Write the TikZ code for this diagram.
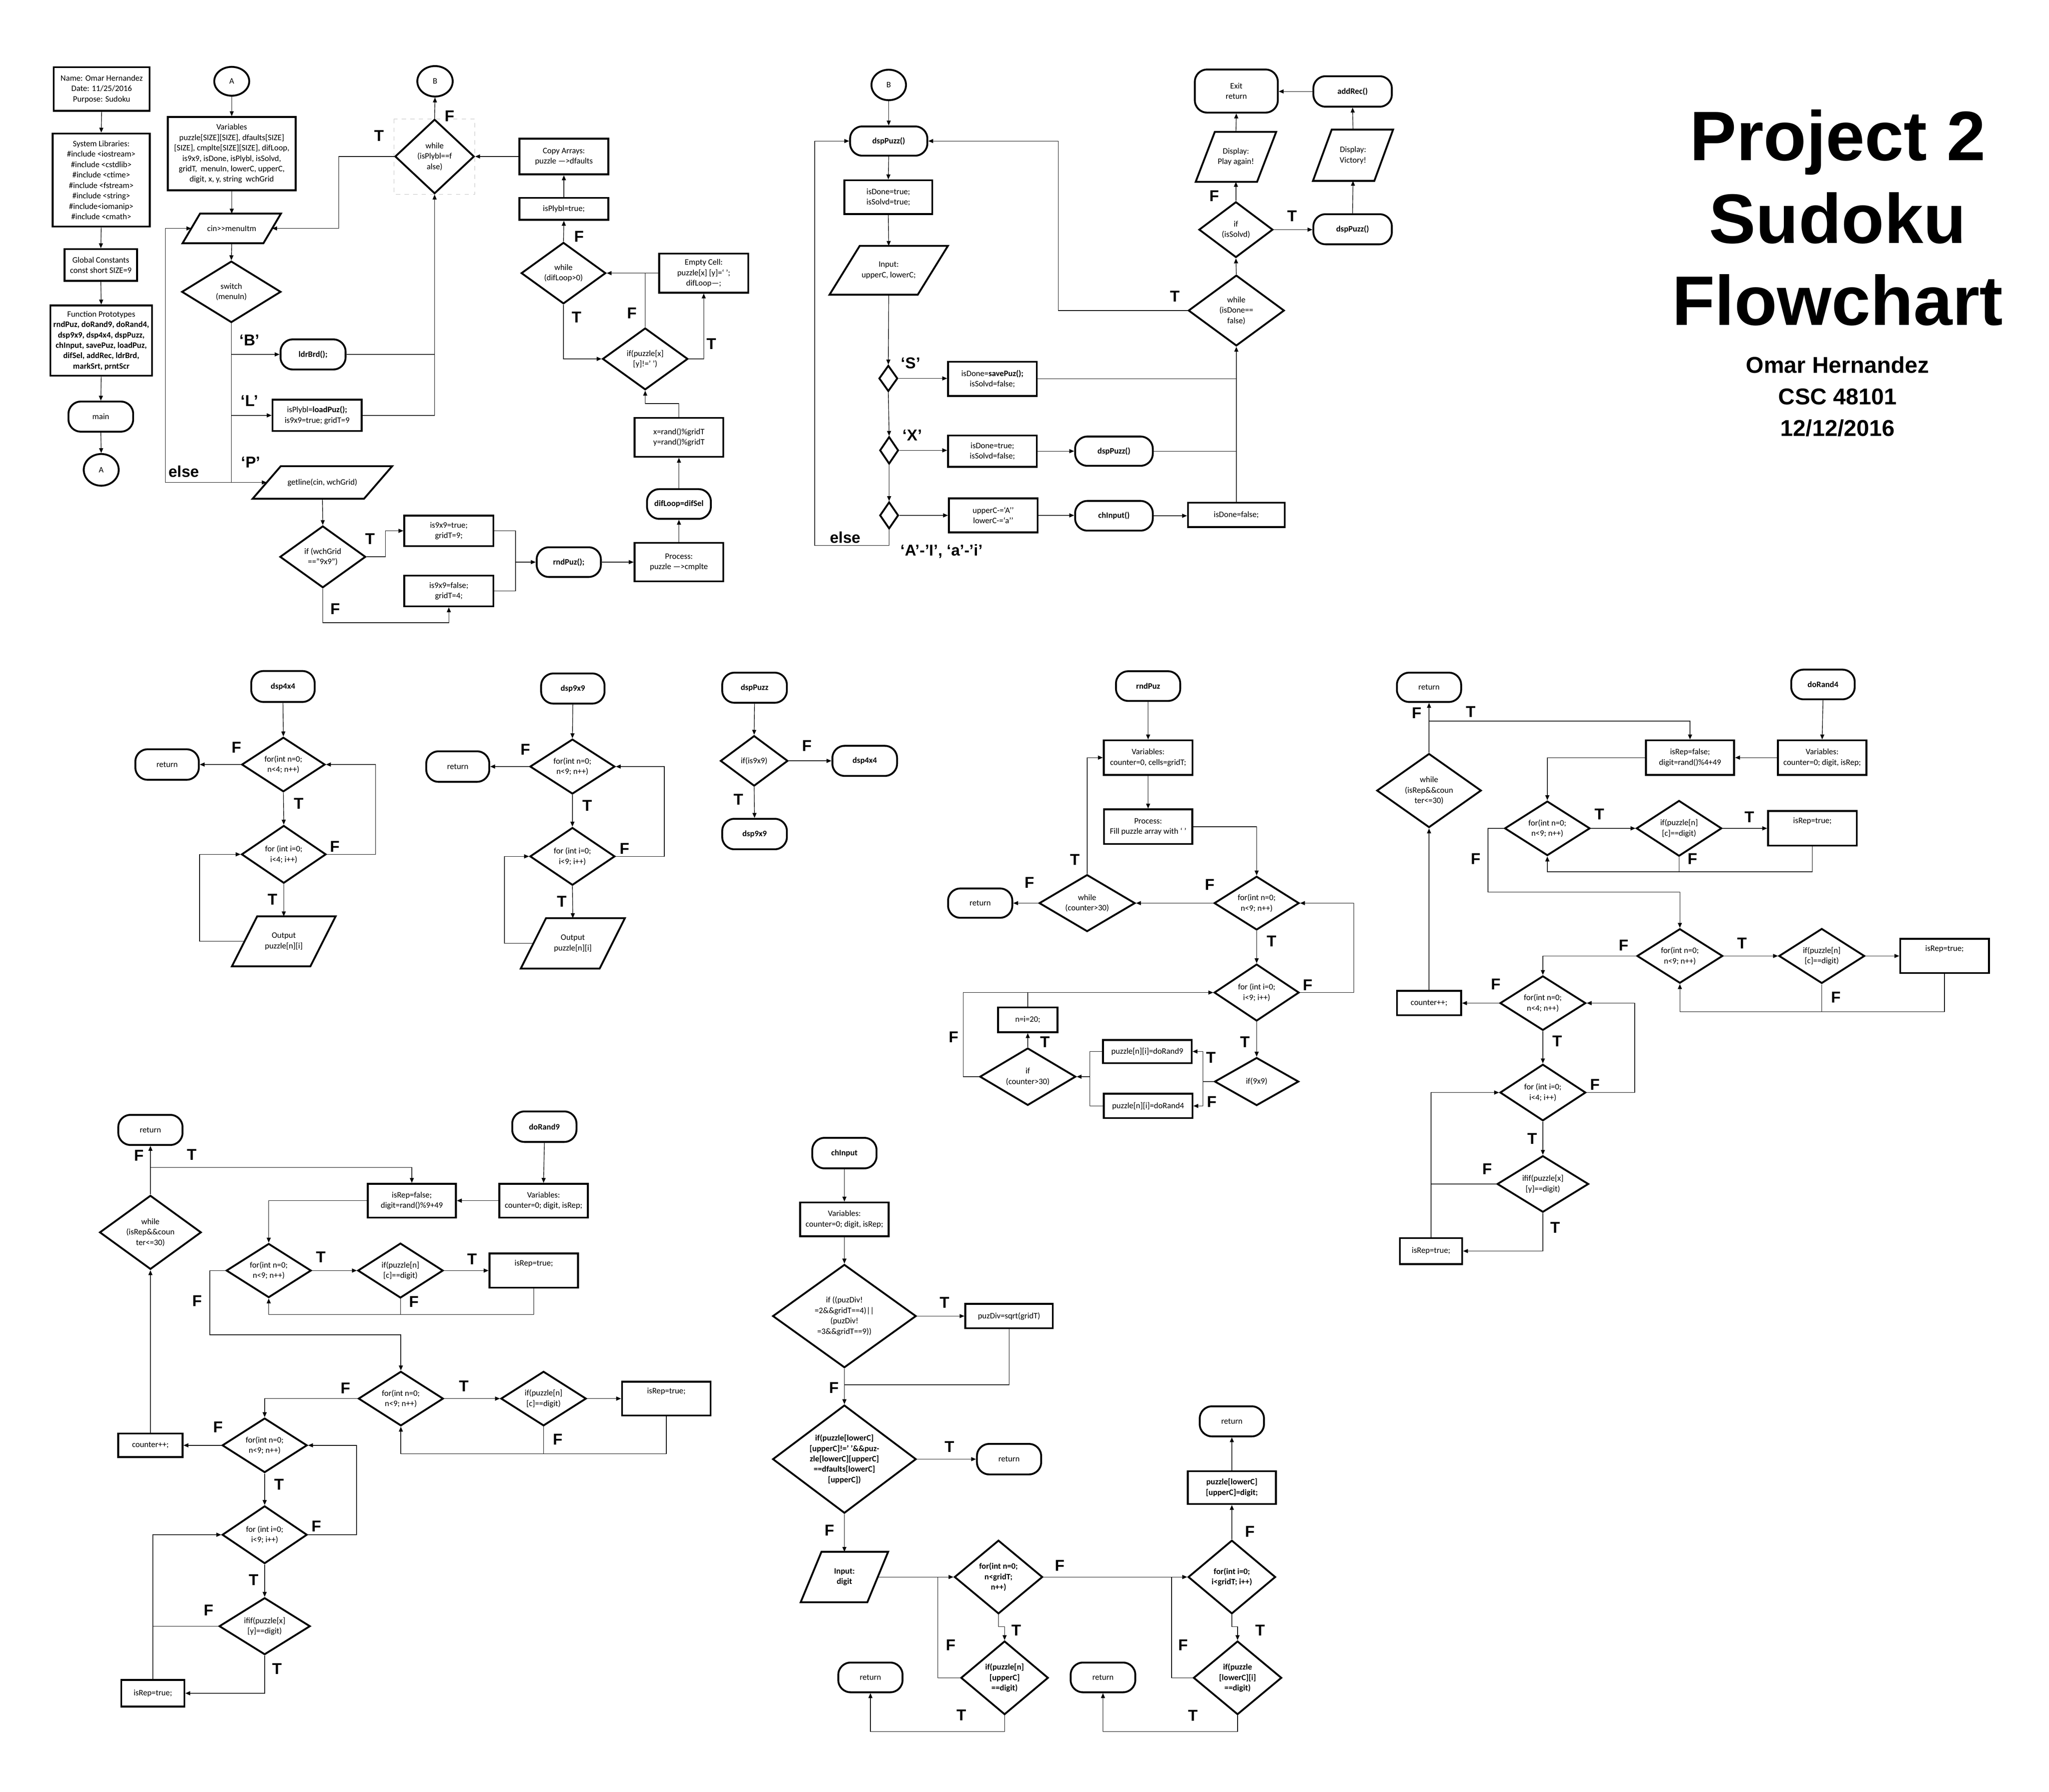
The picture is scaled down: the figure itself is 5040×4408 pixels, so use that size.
\documentclass[tikz,border=0pt]{standalone}
\usepackage{fontspec}
\setmainfont{Carlito}
\newfontfamily\labfont{Liberation Sans}
\usetikzlibrary{shapes.geometric,arrows.meta}

\tikzset{
 base/.style={inner sep=0pt, align=center, font=\fontsize{5.8}{7.3}\selectfont},
 bold/.style={font=\fontsize{5.8}{7.3}\selectfont\bfseries},
 box/.style={base, draw, line width=1.3pt, rectangle},
 term/.style={base, draw, line width=1.3pt, rounded corners=0.3cm},
 dia/.style={base, draw, line width=1.3pt, diamond},
 conn/.style={base, draw, line width=1.3pt, ellipse},
 txt/.style={base, outer sep=0pt},
 sz/.code 2 args={\pgfmathsetlengthmacro\szW{#1*0.01cm}\pgfmathsetlengthmacro\szH{#2*0.01cm}%
   \edef\szNext{\noexpand\pgfkeysalso{minimum width=\szW,minimum height=\szH}}\szNext},
 arr/.style={line width=0.4pt, -{Triangle[length=0.12cm,width=0.1cm]}},
 ln/.style={line width=0.4pt},
 lab/.style={inner sep=0pt, font=\labfont\bfseries\fontsize{11}{13}\selectfont},
 outl/.style={line width=1.3pt, line join=miter},
}

\newcommand{\Dia}[7][]{%
 \node[dia,sz={#5}{#6}] (#2) at (#3,#4) {};%
 \node[txt,#1] (#2-t) at (#2.center) {#7};}

\newcommand{\Para}[8][]{%
 \pgfmathsetmacro\myPW{(#5-#7)*0.01}%
 \pgfmathsetmacro\myPH{#6*0.01}%
 \pgfmathsetmacro\myPS{#7*0.005}%
 \node[txt,#1,minimum width=\myPW cm,minimum height=\myPH cm] (#2) at (#3,#4) {#8};%
 \draw[outl] ([xshift=-\myPS cm]#2.south west) -- ([xshift=\myPS cm]#2.north west) -- ([xshift=\myPS cm]#2.north east) -- ([xshift=-\myPS cm]#2.south east) -- cycle;}

\newcounter{labc}
\newcommand{\Lab}[3]{\stepcounter{labc}\node[lab] (lab\arabic{labc}) at (#1,#2) {#3};}
\newcommand{\RTrue}{\raisebox{0.12cm}[0pt][0pt]{isRep=true;}}

\begin{document}
\begin{tikzpicture}[x=0.01cm,y=-0.01cm]
\fill[white] (0,0) rectangle (5040,4408);
\useasboundingbox (0,0) rectangle (5040,4408);

% ================= MAIN =================
\node[box,sz={236}{107}] (n1) at (250,219) {Name: Omar Hernandez\\Date: 11/25/2016\\Purpose: Sudoku};
\node[box,sz={239}{229}] (n2) at (249,443) {System Libraries:\\\#include <iostream>\\\#include <cstdlib>\\\#include <ctime>\\\#include <fstream>\\\#include <string>\\\#include<iomanip>\\\#include <cmath>};
\node[box,sz={178}{78}] (n3) at (248,652) {Global Constants\\const short SIZE=9};
\node[box,sz={250}{173}] (n4) at (249,838) {Function Prototypes\\\textbf{rndPuz, doRand9, doRand4,}\\\textbf{dsp9x9, dsp4x4, dspPuzz,}\\\textbf{chInput, savePuz, loadPuz,}\\\textbf{difSel, addRec, ldrBrd,}\\\textbf{markSrt, prntScr}};
\node[term,sz={159}{74}] (n5) at (248,1025) {main};
\node[conn,sz={86}{78}] (n6) at (249,1156) {A};
\draw[arr] (n1.south) -- (n2.north);
\draw[arr] (n2.south) -- (n3.north);
\draw[arr] (n3.south) -- (n4.north);
\draw[arr] (n4.south) -- (n5.north);
\draw[arr] (n5.south) -- (n6.north);

\node[conn,sz={86}{71}] (mA) at (570,200) {A};
\node[box,sz={315}{180}] (mVar) at (570,378) {Variables\\puzzle[SIZE][SIZE], dfaults[SIZE]\\{}[SIZE], cmplte[SIZE][SIZE], difLoop,\\is9x9, isDone, isPlybl, isSolvd,\\gridT,\ \ menuIn, lowerC, upperC,\\digit, x, y, string\ \ wchGrid};
\Para{mCin}{570}{562}{242}{73}{43}{cin>{}>menuItm}
\Dia{mSw}{569}{718}{244}{151}{switch\\(menuIn)}
\node[term,sz={160}{74}] (mLdr) at (770,872) {\textbf{ldrBrd();}};
\node[box,sz={219}{77}] (mLoad) at (780,1022) {isPlybl=\textbf{loadPuz();}\\is9x9=true; gridT=9};
\Para{mGet}{793}{1187}{343}{80}{69}{getline(cin, wchGrid)}
\Dia{mIf}{794}{1370}{211}{152}{if (wchGrid\\=="9x9")}
\node[box,sz={219}{75}] (mT9) at (1104,1306) {is9x9=true;\\gridT=9;};
\node[box,sz={219}{76}] (mF4) at (1104,1454) {is9x9=false;\\gridT=4;};
\node[term,sz={158}{73}] (mRnd) at (1399,1383) {\textbf{rndPuz();}};
\node[box,sz={218}{95}] (mProc) at (1670,1383) {Process:\\puzzle —>cmplte};
\node[term,sz={157}{73}] (mDif) at (1670,1240) {\textbf{difLoop=difSel}};
\node[box,sz={218}{96}] (mXY) at (1670,1076) {x=rand()\%gridT\\y=rand()\%gridT};
\Dia{mIfE}{1587}{883}{210}{152}{if(puzzle[x]\\{}[y]!=' ')}
\node[box,sz={219}{96}] (mEmp) at (1731,672) {Empty Cell:\\puzzle[x] [y]=‘ ’;\\difLoop—;};
\Dia{mWd}{1386}{672}{208}{151}{while\\(difLoop>0)}
\node[box,sz={219}{54}] (mPly) at (1387,514) {isPlybl=true;};
\node[box,sz={219}{88}] (mCopy) at (1387,385) {Copy Arrays:\\puzzle —>dfaults};
\draw[gray!50,dashed,line width=0.4pt] (969,293) rectangle (1168,478);
\Dia{mWh}{1069}{385}{195}{183}{while\\(isPlybl==f\\alse)}
\node[conn,sz={87}{75}] (mB) at (1070,200) {B};
\coordinate (mElse) at (407,1187);
\coordinate (mLoopT) at (833,385);
\coordinate (mXYj) at (1670,993);
\coordinate (mTj) at (948,1370);
\coordinate (mFj) at (794,1532);
\coordinate (mMj) at (1268,1383);
\draw[arr] (mA.south) -- (mVar.north);
\draw[arr] (mVar.south) -- (mCin.north);
\draw[arr] (mCin.south) -- (mSw.north);
\draw[arr] (mSw.south) |- (mLdr.west);
\draw[arr] (mSw.south) |- (mLoad.west);
\draw[arr] (mSw.south) |- (mGet.west);
\draw[arr] (mSw.south |- mElse) -- (mElse) |- (mCin.west);
\draw[arr] (mWh.west) -- (mLoopT) |- (mCin.east);
\draw[ln] (mLdr.east) -- (mLdr.east -| mWh.south);
\draw[arr] (mLoad.east) -| (mWh.south);
\draw[arr] (mWh.north) -- (mB.south);
\draw[arr] (mCopy.west) -- (mWh.east);
\draw[arr] (mPly.north) -- (mCopy.south);
\draw[arr] (mWd.north) -- (mPly.south);
\draw[arr] (mWd.south) |- (mIfE.west);
\draw[arr] (mIfE.north) |- (mWd.east);
\draw[ln] (mEmp.west) -- (mIfE.north |- mEmp.west);
\draw[arr] (mIfE.east) -| (mEmp.south);
\draw[arr] (mXY.north) -- (mXYj) -| (mIfE.south);
\draw[arr] (mDif.north) -- (mXY.south);
\draw[arr] (mProc.north) -- (mDif.south);
\draw[arr] (mRnd.east) -- (mRnd.east -| mProc.west);
\draw[arr] (mGet.south) -- (mIf.north);
\draw[arr] (mIf.east) -- (mTj) |- (mT9.west);
\draw[arr] (mIf.south) -- (mFj) -| (mF4.south);
\draw[ln] (mT9.east) -| (mMj);
\draw[ln] (mF4.east) -| (mMj);
\draw[arr] (mMj) -- (mRnd.west);
\Lab{933}{334}{T} \Lab{1106}{286}{F} \Lab{614}{837}{‘B’} \Lab{614}{986}{‘L’} \Lab{617}{1137}{‘P’}
\Lab{452}{1160}{else} \Lab{910}{1326}{T} \Lab{825}{1498}{F} \Lab{1424}{582}{F} \Lab{1418}{780}{T}
\Lab{1555}{770}{F} \Lab{1750}{846}{T}

% ================= dspPuzz loop (top) =================
\node[conn,sz={85}{75}] (pB) at (2186,209) {B};
\node[term,sz={190}{72}] (pDsp) at (2186,347) {\textbf{dspPuzz()}};
\node[box,sz={216}{83}] (pDone) at (2185,485) {isDone=true;\\isSolvd=true;};
\Para{pIn}{2186}{665}{291}{120}{74}{Input:\\upperC, lowerC;}
\Dia{pS}{2185}{931}{46}{64}{}
\node[box,sz={218}{84}] (pSave) at (2441,932) {isDone=\textbf{savePuz();}\\isSolvd=false;};
\Dia{pX}{2187}{1108}{46}{67}{}
\node[box,sz={218}{77}] (pSet) at (2441,1110) {isDone=true;\\isSolvd=false;};
\node[term,sz={191}{72}] (pDsp2) at (2740,1110) {\textbf{dspPuzz()}};
\Dia{pA}{2187}{1268}{46}{66}{}
\node[box,sz={218}{84}] (pUp) at (2443,1268) {upperC-=‘A’’\\lowerC-=‘a’’};
\node[term,sz={191}{73}] (pCh) at (2740,1269) {\textbf{chInput()}};
\node[box,sz={238}{60}] (pDf) at (3041,1267) {isDone=false;};
\Dia{pWh}{3041}{764}{236}{174}{while\\(isDone==\\false)}
\Dia{pIf}{3040}{565}{182}{137}{if\\(isSolvd)}
\Para{pPl}{3040}{386}{198}{123}{47}{Display:\\Play again!}
\node[term,sz={204}{106}] (pEx) at (3041,224) {Exit\\return};
\node[term,sz={193}{74}] (pDsp3) at (3327,564) {\textbf{dspPuzz()}};
\Para{pVic}{3328}{382}{197}{126}{46}{Display:\\Victory!}
\node[term,sz={193}{75}] (pAdd) at (3327,225) {\textbf{addRec()}};
\coordinate (pTj) at (2603,764);
\coordinate (pEj) at (2004,1342);
\draw[arr] (pB.south) -- (pDsp.north);
\draw[arr] (pDsp.south) -- (pDone.north);
\draw[arr] (pDone.south) -- (pIn.north);
\draw[arr] (pIn.south) -- (pS.north);
\draw[arr] (pS.south) -- (pX.north);
\draw[arr] (pX.south) -- (pA.north);
\draw[arr] (pS.east) -- (pS.east -| pSave.west);
\draw[arr] (pX.east) -- (pX.east -| pSet.west);
\draw[arr] (pSet.east) -- (pSet.east -| pDsp2.west);
\draw[arr] (pA.east) -- (pA.east -| pUp.west);
\draw[arr] (pUp.east) -- (pUp.east -| pCh.west);
\draw[arr] (pCh.east) -- (pCh.east -| pDf.west);
\draw[arr] (pDf.north) -- (pWh.south);
\draw[ln] (pSave.east) -- (pSave.east -| pWh.south);
\draw[ln] (pDsp2.east) -- (pDsp2.east -| pWh.south);
\draw[arr] (pWh.north) -- (pIf.south);
\draw[arr] (pIf.north) -- (pPl.south);
\draw[arr] (pPl.north) -- (pEx.south);
\draw[arr] (pIf.east) -- (pIf.east -| pDsp3.west);
\draw[arr] (pDsp3.north) -- (pVic.south);
\draw[arr] (pVic.north) -- (pAdd.south);
\draw[arr] (pAdd.west) -- (pAdd.west -| pEx.east);
\draw[arr] (pWh.west) -- (pTj) |- (pDsp.east);
\draw[arr] (pA.south) |- (pEj) |- (pDsp.west);
\Lab{2240}{893}{‘S’} \Lab{2244}{1071}{‘X’} \Lab{2079}{1322}{else} \Lab{2316}{1356}{‘A’-’I’, ‘a’-’i’}
\Lab{2890}{729}{T} \Lab{2987}{482}{F} \Lab{3178}{532}{T}

% ================= Title =================
\node[anchor=base,inner sep=0pt,font=\labfont\bfseries\fontsize{49}{58}\selectfont] (t1) at (4520,395) {Project 2};
\node[anchor=base,inner sep=0pt,font=\labfont\bfseries\fontsize{49}{58}\selectfont] (t2) at (4520,598) {Sudoku};
\node[anchor=base,inner sep=0pt,font=\labfont\bfseries\fontsize{49}{58}\selectfont] (t3) at (4520,800) {Flowchart};
\node[anchor=base,inner sep=0pt,font=\labfont\bfseries\fontsize{16}{19}\selectfont] (t4) at (4520,918) {Omar Hernandez};
\node[anchor=base,inner sep=0pt,font=\labfont\bfseries\fontsize{16}{19}\selectfont] (t5) at (4520,995) {CSC 48101};
\node[anchor=base,inner sep=0pt,font=\labfont\bfseries\fontsize{16}{19}\selectfont] (t6) at (4520,1073) {12/12/2016};

% ================= dsp4x4 =================
\node[term,sz={156}{76}] (a1) at (696,1689) {\textbf{dsp4x4}};
\Dia{a2}{697}{1881}{205}{134}{for(int n=0;\\n<4; n++)}
\node[term,sz={156}{75}] (a3) at (411,1881) {return};
\Dia{a4}{698}{2102}{208}{142}{for (int i=0;\\i<4; i++)}
\Para{a5}{698}{2316}{255}{123}{62}{Output\\puzzle[n][i]}
\coordinate (a4j) at (924,2102);
\coordinate (a5j) at (491,2316);
\draw[arr] (a1.south) -- (a2.north);
\draw[arr] (a2.west) -- (a2.west -| a3.east);
\draw[arr] (a2.south) -- (a4.north);
\draw[arr] (a4.south) -- (a5.north);
\draw[arr] (a4.east) -- (a4j) |- (a2.east);
\draw[arr] (a5.west) -- (a5j) |- (a4.west);
\Lab{582}{1839}{F} \Lab{735}{1977}{T} \Lab{824}{2083}{F} \Lab{671}{2213}{T}

% ================= dsp9x9 =================
\node[term,sz={156}{74}] (b1) at (1409,1694) {\textbf{dsp9x9}};
\Dia{b2}{1408}{1886}{209}{135}{for(int n=0;\\n<9; n++)}
\node[term,sz={155}{75}] (b3) at (1126,1886) {return};
\Dia{b4}{1408}{2107}{209}{142}{for (int i=0;\\i<9; i++)}
\Para{b5}{1409}{2321}{256}{124}{62}{Output\\puzzle[n][i]}
\coordinate (b4j) at (1634,2107);
\coordinate (b5j) at (1241,2321);
\draw[arr] (b1.south) -- (b2.north);
\draw[arr] (b2.west) -- (b2.west -| b3.east);
\draw[arr] (b2.south) -- (b4.north);
\draw[arr] (b4.south) -- (b5.north);
\draw[arr] (b4.east) -- (b4j) |- (b2.east);
\draw[arr] (b5.west) -- (b5j) |- (b4.west);
\Lab{1292}{1844}{F} \Lab{1445}{1982}{T} \Lab{1536}{2088}{F} \Lab{1382}{2218}{T}

% ================= dspPuzz =================
\node[term,sz={159}{74}] (c1) at (1856,1692) {\textbf{dspPuzz}};
\Dia{c2}{1855}{1872}{166}{124}{if(is9x9)}
\node[term,sz={159}{74}] (c3) at (2127,1872) {\textbf{dsp4x4}};
\node[term,sz={159}{75}] (c4) at (1856,2052) {\textbf{dsp9x9}};
\draw[arr] (c1.south) -- (c2.north);
\draw[arr] (c2.east) -- (c2.east -| c3.west);
\draw[arr] (c2.south) -- (c4.north);
\Lab{1985}{1835}{F} \Lab{1817}{1967}{T}

% ================= rndPuz =================
\node[term,sz={158}{73}] (r1) at (2824,1688) {\textbf{rndPuz}};
\node[box,sz={218}{85}] (r2) at (2824,1864) {Variables:\\counter=0, cells=gridT;};
\node[box,sz={217}{85}] (r3) at (2824,2034) {Process:\\Fill puzzle array with ‘ ’};
\Dia{r4}{3091}{2222}{209}{132}{for(int n=0;\\n<9; n++)}
\Dia{r5}{2674}{2222}{236}{140}{while\\(counter>30)}
\node[term,sz={158}{72}] (r6) at (2411,2222) {return};
\Dia{r7}{3091}{2442}{209}{140}{for (int i=0;\\i<9; i++)}
\Dia{r8}{3091}{2661}{207}{118}{if(9x9)}
\node[box,sz={218}{57}] (r9) at (2822,2587) {puzzle[n][i]=doRand9};
\node[box,sz={218}{60}] (r10) at (2824,2721) {puzzle[n][i]=doRand4};
\Dia{r11}{2528}{2649}{236}{141}{if\\(counter>30)}
\node[box,sz={146}{61}] (r12) at (2528,2509) {n=i=20;};
\coordinate (r7j) at (3330,2442);
\coordinate (r8j) at (2959,2661);
\coordinate (r11j) at (2681,2649);
\coordinate (r11f) at (2369,2649);
\draw[arr] (r1.south) -- (r2.north);
\draw[arr] (r2.south) -- (r3.north);
\draw[arr] (r3.east) -| (r4.north);
\draw[arr] (r4.west) -- (r5.east);
\draw[arr] (r5.west) -- (r6.east);
\draw[arr] (r5.north) |- (r2.west);
\draw[arr] (r4.south) -- (r7.north);
\draw[arr] (r7.south) -- (r8.north);
\draw[arr] (r7.east) -- (r7j) |- (r4.east);
\draw[ln] (r8.west) -- (r8j);
\draw[arr] (r8j) |- (r9.east);
\draw[arr] (r8j) |- (r10.east);
\draw[ln] (r9.west) -| (r11j);
\draw[ln] (r10.west) -| (r11j);
\draw[arr] (r11j) -- (r11.east);
\draw[arr] (r11.north) -- (r12.south);
\draw[ln] (r12.north) -- (r12.north |- r7.west);
\draw[arr] (r11.west) -- (r11f) |- (r7.west);
\Lab{2976}{2177}{F} \Lab{2644}{2115}{T} \Lab{2532}{2171}{F} \Lab{3128}{2316}{T} \Lab{3217}{2423}{F}
\Lab{3062}{2564}{T} \Lab{2979}{2602}{T} \Lab{2981}{2711}{F} \Lab{2571}{2564}{T} \Lab{2346}{2551}{F}

% ================= doRand4 =================
\node[term,sz={158}{72}] (d1) at (3515,1691) {return};
\node[term,sz={156}{73}] (d2) at (4484,1684) {\textbf{doRand4}};
\node[box,sz={218}{85}] (d3) at (4482,1864) {Variables:\\counter=0; digit, isRep;};
\node[box,sz={217}{85}] (d4) at (4157,1864) {isRep=false;\\digit=rand()\%4+49};
\Dia{d5}{3515}{1945}{257}{182}{while\\(isRep\&\&coun\\ter<=30)}
\Dia{d6}{3806}{2038}{210}{134}{for(int n=0;\\n<9; n++)}
\Dia{d7}{4130}{2038}{210}{137}{if(puzzle[n]\\{}[c]==digit)}
\node[box,sz={218}{85}] (d8) at (4458,2038) {\RTrue};
\Dia{d9}{4132}{2352}{211}{134}{for(int n=0;\\n<9; n++)}
\Dia{d10}{4481}{2352}{211}{135}{if(puzzle[n]\\{}[c]==digit)}
\node[box,sz={218}{84}] (d11) at (4783,2352) {\RTrue};
\Dia{d12}{3795}{2468}{211}{134}{for(int n=0;\\n<4; n++)}
\node[box,sz={158}{60}] (d13) at (3515,2468) {counter++;};
\Dia{d14}{3795}{2688}{211}{139}{for (int i=0;\\i<4; i++)}
\Dia{d15}{3795}{2913}{225}{139}{ifif(puzzle[x]\\{}[y]==digit)}
\node[box,sz={153}{64}] (d16) at (3520,3078) {isRep=true;};
\coordinate (d5j) at (3515,1774);
\coordinate (d6l) at (3806,2145);
\coordinate (d6f) at (3660,2195);
\coordinate (d9l) at (4132,2489);
\coordinate (d14f) at (4021,2688);
\coordinate (d15f) at (3520,2913);
\draw[arr] (d2.south) -- (d3.north);
\draw[arr] (d3.west) -- (d4.east);
\draw[arr] (d5.north) -- (d1.south);
\draw[arr] (d5j) -| (d4.north);
\draw[arr] (d4.west) -| (d6.north);
\draw[arr] (d6.east) -- (d6.east -| d7.west);
\draw[arr] (d7.east) -- (d7.east -| d8.west);
\draw[ln] (d7.south) -- (d7.south |- d6l);
\draw[arr] (d8.south) |- (d6l) -- (d6.south);
\draw[arr] (d6.west) -| (d6f) -| (d9.north);
\draw[arr] (d9.east) -- (d9.east -| d10.west);
\draw[arr] (d10.east) -- (d10.east -| d11.west);
\draw[ln] (d10.south) -- (d10.south |- d9l);
\draw[arr] (d11.south) |- (d9l) -- (d9.south);
\draw[arr] (d9.west) -| (d12.north);
\draw[arr] (d12.west) -- (d12.west -| d13.east);
\draw[arr] (d13.north) -- (d5.south);
\draw[arr] (d12.south) -- (d14.north);
\draw[arr] (d14.east) -- (d14f) |- (d12.east);
\draw[arr] (d14.south) -- (d15.north);
\draw[arr] (d15.south) |- (d16.east);
\draw[ln] (d15.west) -- (d15f);
\draw[arr] (d16.north) |- (d14.west);
\Lab{3485}{1754}{F} \Lab{3618}{1751}{T} \Lab{3934}{2003}{T} \Lab{4303}{2010}{T} \Lab{4163}{2113}{F}
\Lab{3630}{2113}{F} \Lab{4285}{2321}{T} \Lab{4516}{2454}{F} \Lab{3994}{2326}{F} \Lab{3679}{2421}{F}
\Lab{3831}{2562}{T} \Lab{3923}{2668}{F} \Lab{3769}{2801}{T} \Lab{3658}{2876}{F} \Lab{3826}{3020}{T}

% ================= doRand9 =================
\node[term,sz={158}{74}] (e1) at (370,2780) {return};
\node[term,sz={158}{75}] (e2) at (1339,2772) {\textbf{doRand9}};
\node[box,sz={218}{83}] (e3) at (1337,2954) {Variables:\\counter=0; digit, isRep;};
\node[box,sz={217}{83}] (e4) at (1013,2954) {isRep=false;\\digit=rand()\%9+49};
\Dia{e5}{370}{3032}{250}{182}{while\\(isRep\&\&coun\\ter<=30)}
\Dia{e6}{661}{3126}{209}{133}{for(int n=0;\\n<9; n++)}
\Dia{e7}{985}{3126}{210}{135}{if(puzzle[n]\\{}[c]==digit)}
\node[box,sz={218}{84}] (e8) at (1313,3126) {\RTrue};
\Dia{e9}{986}{3441}{209}{134}{for(int n=0;\\n<9; n++)}
\Dia{e10}{1337}{3441}{210}{134}{if(puzzle[n]\\{}[c]==digit)}
\node[box,sz={218}{83}] (e11) at (1639,3441) {\RTrue};
\Dia{e12}{651}{3556}{209}{134}{for(int n=0;\\n<9; n++)}
\node[box,sz={158}{58}] (e13) at (370,3556) {counter++;};
\Dia{e14}{651}{3776}{209}{142}{for (int i=0;\\i<9; i++)}
\Dia{e15}{651}{4001}{224}{140}{ifif(puzzle[x]\\{}[y]==digit)}
\node[box,sz={155}{65}] (e16) at (376,4166) {isRep=true;};
\coordinate (e5j) at (370,2872);
\coordinate (e6l) at (661,3234);
\coordinate (e6f) at (516,3284);
\coordinate (e9l) at (986,3577);
\coordinate (e14f) at (877,3776);
\coordinate (e15f) at (376,4001);
\draw[arr] (e2.south) -- (e3.north);
\draw[arr] (e3.west) -- (e3.west -| e4.east);
\draw[arr] (e5.north) -- (e1.south);
\draw[arr] (e5j) -| (e4.north);
\draw[arr] (e4.west) -| (e6.north);
\draw[arr] (e6.east) -- (e6.east -| e7.west);
\draw[arr] (e7.east) -- (e7.east -| e8.west);
\draw[ln] (e7.south) -- (e7.south |- e6l);
\draw[arr] (e8.south) |- (e6l) -- (e6.south);
\draw[arr] (e6.west) -| (e6f) -| (e9.north);
\draw[arr] (e9.east) -- (e9.east -| e10.west);
\draw[arr] (e10.east) -- (e10.east -| e11.west);
\draw[ln] (e10.south) -- (e10.south |- e9l);
\draw[arr] (e11.south) |- (e9l) -- (e9.south);
\draw[arr] (e9.west) -| (e12.north);
\draw[arr] (e12.west) -- (e12.west -| e13.east);
\draw[arr] (e13.north) -- (e5.south);
\draw[arr] (e12.south) -- (e14.north);
\draw[arr] (e14.east) -- (e14f) |- (e12.east);
\draw[arr] (e14.south) -- (e15.north);
\draw[arr] (e15.south) |- (e16.east);
\draw[ln] (e15.west) -- (e15f);
\draw[arr] (e16.north) |- (e14.west);
\Lab{342}{2843}{F} \Lab{472}{2841}{T} \Lab{789}{3093}{T} \Lab{1161}{3098}{T} \Lab{1018}{3203}{F}
\Lab{485}{3201}{F} \Lab{1141}{3410}{T} \Lab{1372}{3541}{F} \Lab{850}{3415}{F} \Lab{536}{3511}{F}
\Lab{687}{3652}{T} \Lab{778}{3755}{F} \Lab{624}{3887}{T} \Lab{513}{3962}{F} \Lab{682}{4106}{T}

% ================= chInput =================
\node[term,sz={158}{75}] (h1) at (2077,2837) {\textbf{chInput}};
\node[box,sz={218}{83}] (h2) at (2077,3000) {Variables:\\counter=0; digit, isRep;};
\Dia{h3}{2077}{3238}{353}{254}{if ((puzDiv!\\=2\&\&gridT==4)||\\(puzDiv!\\=3\&\&gridT==9))}
\node[box,sz={215}{60}] (h4) at (2482,3238) {puzDiv=sqrt(gridT)};
\Dia[bold]{h5}{2077}{3590}{353}{266}{if(puzzle[lowerC]\\{}[upperC]!=' '\&\&puz-\\zle[lowerC][upperC]\\==dfaults[lowerC]\\{}[upperC])}
\node[term,sz={158}{75}] (h6) at (2482,3590) {return};
\Para[bold]{h7}{2077}{3880}{215}{124}{51}{Input:\\digit}
\Dia[bold]{h8}{2456}{3880}{217}{181}{for(int n=0;\\n<gridT;\\n++)}
\Dia[bold]{h9}{2471}{4128}{215}{181}{if(puzzle[n]\\{}[upperC]\\==digit)}
\node[term,sz={158}{73}] (h10) at (2141,4127) {return};
\Dia[bold]{h11}{3030}{3880}{215}{181}{for(int i=0;\\i<gridT; i++)}
\node[box,bold,sz={217}{81}] (h12) at (3030,3660) {puzzle[lowerC]\\{}[upperC]=digit;};
\node[term,sz={158}{74}] (h13) at (3030,3497) {return};
\Dia[bold]{h14}{3044}{4128}{217}{181}{if(puzzle\\{}[lowerC][i]\\==digit)}
\node[term,sz={159}{73}] (h15) at (2713,4127) {return};
\coordinate (h3j) at (2077,3407);
\coordinate (h8j) at (2307,3880);
\coordinate (h8t) at (2471,4002);
\coordinate (h9t) at (2141,4260);
\coordinate (h11j) at (2882,3880);
\coordinate (h11t) at (3044,4002);
\coordinate (h14t) at (2713,4260);
\draw[arr] (h1.south) -- (h2.north);
\draw[arr] (h2.south) -- (h3.north);
\draw[arr] (h3.east) -- (h3.east -| h4.west);
\draw[ln] (h4.south) |- (h3j);
\draw[arr] (h3.south) -- (h5.north);
\draw[arr] (h5.east) -- (h5.east -| h6.west);
\draw[arr] (h5.south) -- (h7.north);
\draw[arr] (h7.east) -- (h7.east -| h8.west);
\draw[ln] (h9.west) -| (h8j);
\draw[arr] (h8.south) |- (h8t) -- (h9.north);
\draw[arr] (h9.south) |- (h9t) -- (h10.south);
\draw[arr] (h8.east) -- (h8.east -| h11.west);
\draw[ln] (h14.west) -| (h11j);
\draw[arr] (h11.south) |- (h11t) -- (h14.north);
\draw[arr] (h11.north) -- (h12.south);
\draw[arr] (h12.north) -- (h13.south);
\draw[arr] (h14.south) |- (h14t) -- (h15.south);
\Lab{2324}{3205}{T} \Lab{2051}{3414}{F} \Lab{2336}{3559}{T} \Lab{2040}{3765}{F} \Lab{2607}{3852}{F}
\Lab{2500}{4011}{T} \Lab{2339}{4047}{F} \Lab{2365}{4220}{T} \Lab{3075}{3768}{F} \Lab{3100}{4011}{T}
\Lab{2910}{4047}{F} \Lab{2934}{4221}{T}
\end{tikzpicture}
\end{document}
